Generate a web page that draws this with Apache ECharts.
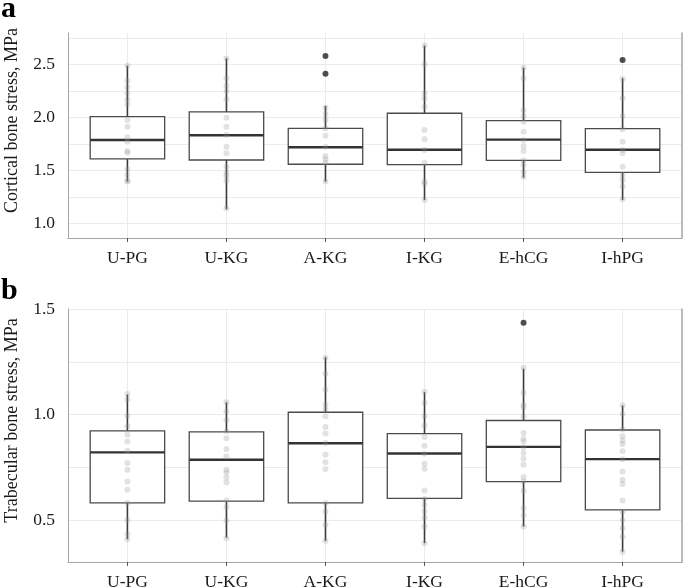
<!DOCTYPE html>
<html>
<head>
<meta charset="utf-8">
<script src="https://cdn.jsdelivr.net/npm/echarts@6/dist/echarts.min.js"></script>
<style>
  html, body { margin: 0; padding: 0; background: #fff; }
  #chart { width: 685px; height: 587px; }
</style>
</head>
<body>
<div id="chart"></div>
<script>
const groups = ["U-PG", "U-KG", "A-KG", "I-KG", "E-hCG", "I-hPG"];

// [min, Q1, median, Q3, max] per group
const corticalStats = [
  [1.393, 1.607, 1.786, 2.006, 2.487],
  [1.132, 1.597, 1.830, 2.050, 2.557],
  [1.393, 1.557, 1.717, 1.896, 2.107],
  [1.220, 1.553, 1.694, 2.038, 2.676],
  [1.430, 1.594, 1.789, 1.968, 2.468],
  [1.220, 1.481, 1.694, 1.892, 2.368]
];
const corticalOutliers = [[], [], [2.578, 2.411], [], [], [2.541]];
const corticalPoints = [
  [2.487, 2.345, 2.283, 2.226, 2.170, 2.123, 1.975, 1.911, 1.811, 1.770, 1.682, 1.666, 1.509, 1.456, 1.402, 1.393],
  [2.555, 2.368, 2.298, 2.248, 2.170, 1.996, 1.911, 1.833, 1.723, 1.660, 1.534, 1.477, 1.446, 1.402, 1.141],
  [2.091, 2.031, 1.975, 1.896, 1.826, 1.723, 1.635, 1.604, 1.572, 1.393],
  [2.676, 2.500, 2.226, 2.179, 2.100, 1.880, 1.792, 1.692, 1.572, 1.393, 1.371, 1.220],
  [2.468, 2.368, 2.069, 2.012, 1.958, 1.864, 1.786, 1.729, 1.682, 1.591, 1.550, 1.487, 1.440],
  [2.361, 2.179, 2.012, 1.887, 1.770, 1.692, 1.660, 1.534, 1.456, 1.408, 1.346, 1.226]
];

const trabecularStats = [
  [0.410, 0.582, 0.821, 0.923, 1.095],
  [0.417, 0.590, 0.786, 0.918, 1.058],
  [0.402, 0.582, 0.864, 1.011, 1.272],
  [0.391, 0.603, 0.816, 0.910, 1.106],
  [0.470, 0.683, 0.847, 0.972, 1.217],
  [0.351, 0.549, 0.789, 0.927, 1.043]
];
const trabecularOutliers = [[], [], [], [], [1.435], []];
const trabecularPoints = [
  [1.098, 1.071, 0.995, 0.945, 0.904, 0.873, 0.829, 0.771, 0.739, 0.683, 0.644, 0.581, 0.501, 0.435, 0.410],
  [1.058, 1.016, 0.976, 0.921, 0.888, 0.837, 0.802, 0.739, 0.726, 0.702, 0.679, 0.593, 0.562, 0.498, 0.414],
  [1.269, 1.193, 1.119, 1.047, 1.024, 0.992, 0.941, 0.910, 0.866, 0.810, 0.774, 0.742, 0.581, 0.541, 0.478, 0.403],
  [1.108, 1.055, 0.992, 0.948, 0.894, 0.853, 0.815, 0.767, 0.744, 0.641, 0.600, 0.573, 0.541, 0.512, 0.470, 0.391],
  [1.222, 1.103, 1.047, 1.035, 0.992, 0.913, 0.886, 0.873, 0.845, 0.818, 0.791, 0.763, 0.704, 0.683, 0.639, 0.557, 0.522, 0.470],
  [1.044, 1.003, 0.929, 0.897, 0.877, 0.861, 0.826, 0.789, 0.731, 0.691, 0.671, 0.593, 0.541, 0.501, 0.462, 0.422, 0.351]
];

const corticalTicks = [1.0, 1.5, 2.0, 2.5];
const corticalGrid = [1.0, 1.25, 1.5, 1.75, 2.0, 2.25, 2.5, 2.75];
const trabecularTicks = [0.5, 1.0, 1.5];
const trabecularGrid = [0.5, 0.75, 1.0, 1.25, 1.5];

const FONT = "'Liberation Serif', 'DejaVu Serif', serif";
const AXIS_GREY = "#a6a6a6";
const GRID_GREY = "#ebebeb";
const TEXT = "#1a1a1a";

const chart = echarts.init(document.getElementById("chart"));

function xAxisFor(gi) {
  return {
    type: "value", gridIndex: gi, min: 0.4, max: 6.6,
    axisLine: { show: true, lineStyle: { color: AXIS_GREY, width: 1 } },
    axisTick: { show: true, length: 4, customValues: [1, 2, 3, 4, 5, 6], lineStyle: { color: "#555" } },
    axisLabel: {
      customValues: [1, 2, 3, 4, 5, 6], margin: 11,
      fontFamily: FONT, fontSize: 17.5, color: TEXT,
      formatter: (v) => groups[Math.round(v) - 1] || ""
    },
    splitLine: { show: true, lineStyle: { color: GRID_GREY, width: 1 } }
  };
}

function yAxisFor(gi, min, max, ticks, grid, title) {
  return [{
    type: "value", gridIndex: gi, min: min, max: max,
    name: title, nameLocation: "middle", nameGap: 47,
    // title sits a bit above the panel centre in the original
    nameTextStyle: { fontFamily: FONT, fontSize: 18, color: TEXT, padding: [0, 0, 0, 30] },
    axisLine: { show: true, lineStyle: { color: AXIS_GREY, width: 1 } },
    axisTick: { show: false, customValues: grid },
    axisLabel: {
      customValues: ticks, margin: 13,
      fontFamily: FONT, fontSize: 17.5, color: TEXT,
      formatter: (v) => v.toFixed(1)
    },
    splitLine: { show: true, lineStyle: { color: GRID_GREY, width: 1 } }
  }, {
    type: "value", gridIndex: gi, min: min, max: max, position: "right",
    axisLine: { show: true, lineStyle: { color: AXIS_GREY, width: 1.5 } },
    axisTick: { show: false }, axisLabel: { show: false }, splitLine: { show: false }
  }];
}

function renderBox(params, api) {
  const x = api.value(0);
  const lo = api.coord([x, api.value(1)]);
  const q1 = api.coord([x, api.value(2)]);
  const med = api.coord([x, api.value(3)]);
  const q3 = api.coord([x, api.value(4)]);
  const hi = api.coord([x, api.value(5)]);
  const half = api.size([1, 0])[0] * 0.376;
  const dark = "#3a3a3a";
  return {
    type: "group",
    children: [
      { type: "line", shape: { x1: lo[0], y1: lo[1], x2: q1[0], y2: q1[1] }, style: { stroke: dark, lineWidth: 1.6 } },
      { type: "line", shape: { x1: q3[0], y1: q3[1], x2: hi[0], y2: hi[1] }, style: { stroke: dark, lineWidth: 1.6 } },
      { type: "rect", shape: { x: q3[0] - half, y: q3[1], width: half * 2, height: q1[1] - q3[1] },
        style: { fill: "#fff", stroke: "#4a4a4a", lineWidth: 1.3 } },
      { type: "line", shape: { x1: med[0] - half, y1: med[1], x2: med[0] + half, y2: med[1] }, style: { stroke: "#333", lineWidth: 2.4 } }
    ]
  };
}

function boxData(stats) {
  return stats.map((s, i) => [i + 1].concat(s));
}
function flatPoints(lists) {
  const out = [];
  lists.forEach((arr, i) => arr.forEach((v) => out.push([i + 1, v])));
  return out;
}

function panelSeries(gi, stats, points, outliers) {
  const xi = gi, yi = gi * 2;
  return [
    { type: "custom", xAxisIndex: xi, yAxisIndex: yi, renderItem: renderBox, data: boxData(stats), z: 2, silent: true },
    { type: "scatter", xAxisIndex: xi, yAxisIndex: yi, data: flatPoints(points), symbolSize: 6, z: 3, silent: true,
      itemStyle: { color: "rgba(150,150,150,0.35)" } },
    { type: "scatter", xAxisIndex: xi, yAxisIndex: yi, data: flatPoints(outliers), symbolSize: 6, z: 4, silent: true,
      itemStyle: { color: "#222" } }
  ];
}

const option = {
  animation: false,
  backgroundColor: "#fff",
  grid: [
    { left: 68, top: 33, width: 614, height: 205, containLabel: false, outerBoundsMode: "none" },
    { left: 68, top: 309, width: 614, height: 253, containLabel: false, outerBoundsMode: "none" }
  ],
  xAxis: [xAxisFor(0), xAxisFor(1)],
  yAxis: yAxisFor(0, 0.861, 2.795, corticalTicks, corticalGrid, "Cortical bone stress, MPa")
    .concat(yAxisFor(1, 0.302, 1.5, trabecularTicks, trabecularGrid, "Trabecular bone stress, MPa")),
  series: panelSeries(0, corticalStats, corticalPoints, corticalOutliers)
    .concat(panelSeries(1, trabecularStats, trabecularPoints, trabecularOutliers)),
  graphic: [
    { type: "text", left: 1, top: -6, style: { text: "a", fontFamily: FONT, fontWeight: "bold", fontSize: 30, fill: "#000" } },
    { type: "text", left: 1, top: 276, style: { text: "b", fontFamily: FONT, fontWeight: "bold", fontSize: 30, fill: "#000" } }
  ]
};

chart.setOption(option);
</script>
</body>
</html>
